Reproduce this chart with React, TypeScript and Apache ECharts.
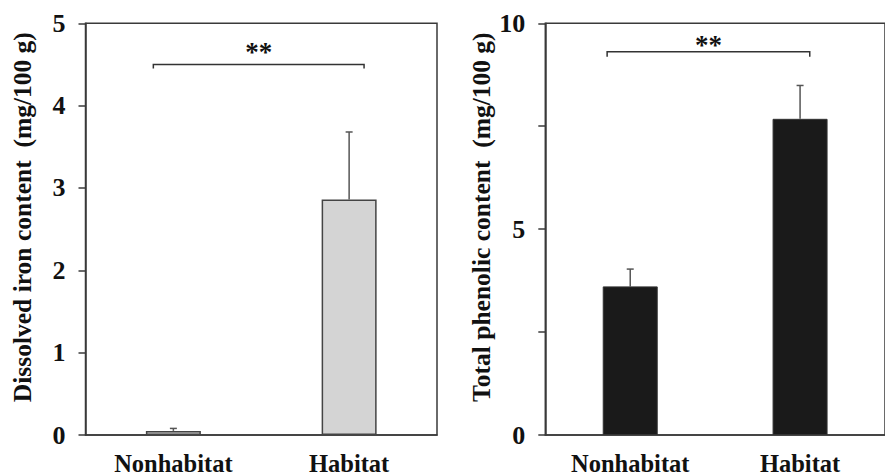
import React, { useEffect, useRef } from "react";
import * as echarts from "echarts";

const categories = ["Nonhabitat", "Habitat"];
const ironValues = [0.05, 2.86];
const ironErrors = [0.03, 0.82];
const phenolValues = [3.61, 7.68];
const phenolErrors = [0.42, 0.81];
const ironTicks = [0, 1, 2, 3, 4, 5];
const phenolTickLabels = [0, 5, 10];
// significance brackets: [fromIndex, toIndex, bracketValue, legValue, starValue]
const ironBracket = [[0, 1, 4.5, 4.45, 4.65]];
const phenolBracket = [[0, 1, 9.31, 9.19, 9.47]];

const FONT = "'Liberation Serif', 'Times New Roman', serif";
const AXIS = "#3a3a3a";

function errorSeries(values: number[], errors: number[], xi: number, yi: number) {
  return {
    type: "custom",
    xAxisIndex: xi,
    yAxisIndex: yi,
    z: 1,
    data: values.map((v, i) => [i, v, v + errors[i]]),
    renderItem: (_p: any, api: any) => {
      const a = api.coord([api.value(0), api.value(1)]);
      const b = api.coord([api.value(0), api.value(2)]);
      return {
        type: "group",
        children: [
          { type: "line", shape: { x1: a[0], y1: a[1], x2: b[0], y2: b[1] }, style: { stroke: "#555", lineWidth: 1.5 } },
          { type: "line", shape: { x1: b[0] - 3.5, y1: b[1], x2: b[0] + 3.5, y2: b[1] }, style: { stroke: "#555", lineWidth: 1.5 } },
        ],
      };
    },
  };
}

function bracketSeries(data: number[][], xi: number, yi: number, off0: number, off1: number) {
  return {
    type: "custom",
    xAxisIndex: xi,
    yAxisIndex: yi,
    clip: false,
    data,
    renderItem: (_p: any, api: any) => {
      const band = api.size([1, 0])[0];
      const p0 = api.coord([api.value(0), api.value(2)]);
      const p1 = api.coord([api.value(1), api.value(2)]);
      const leg = api.coord([api.value(0), api.value(3)]);
      const star = api.coord([api.value(0), api.value(4)]);
      const x0 = p0[0] + off0 * band;
      const x1 = p1[0] + off1 * band;
      return {
        type: "group",
        children: [
          {
            type: "polyline",
            shape: { points: [[x0, leg[1]], [x0, p0[1]], [x1, p0[1]], [x1, leg[1]]] },
            style: { stroke: "#333", fill: null, lineWidth: 1.5 },
          },
          {
            type: "text",
            x: (x0 + x1) / 2,
            y: star[1],
            style: { text: "**", font: `bold 27px ${FONT}`, fill: "#111", align: "center", verticalAlign: "middle" },
          },
        ],
      };
    },
  };
}

export default function App() {
  const ref = useRef<HTMLDivElement>(null);
  useEffect(() => {
    if (!ref.current) return;
    const chart = echarts.init(ref.current, null, { renderer: "svg" });
    const yLabel = { fontFamily: FONT, fontWeight: "bold", fontSize: 26, color: "#111" };
    const xAxisBase = {
      type: "category",
      data: categories,
      axisTick: { show: false },
      axisLine: { lineStyle: { color: AXIS, width: 1.5 } },
      axisLabel: { fontFamily: FONT, fontWeight: "bold", fontSize: 24.5, color: "#111", margin: 16 },
    };
    const yAxisBase = {
      type: "value",
      min: 0,
      splitLine: { show: false },
      axisLine: { show: true, lineStyle: { color: AXIS, width: 1.5 } },
      axisTick: { show: true, inside: false, length: 7, lineStyle: { color: AXIS, width: 1.5 } },
      nameLocation: "middle",
      nameRotate: 90,
      nameTextStyle: { fontFamily: FONT, fontWeight: "bold", fontSize: 25.5, color: "#111", padding: [0, 0, 0, 24] },
    };
    chart.setOption({
      animation: false,
      backgroundColor: "#fff",
      grid: [
        { left: 85.5, top: 23.3, width: 351.5, height: 413.4, show: true, borderColor: AXIS, borderWidth: 1.5, backgroundColor: "transparent" },
        { left: 545.3, top: 23.3, width: 351.5, height: 413.4, show: true, borderColor: AXIS, borderWidth: 1.5, backgroundColor: "transparent" },
      ],
      xAxis: [
        { ...xAxisBase, gridIndex: 0 },
        { ...xAxisBase, gridIndex: 1 },
      ],
      yAxis: [
        {
          ...yAxisBase,
          gridIndex: 0,
          max: ironTicks[ironTicks.length - 1],
          interval: 1,
          name: "Dissolved iron content  (mg/100 g)",
          nameGap: 50,
          axisLabel: { ...yLabel, margin: 20 },
        },
        {
          ...yAxisBase,
          gridIndex: 1,
          max: phenolTickLabels[phenolTickLabels.length - 1],
          interval: 2.5,
          name: "Total phenolic content  (mg/100 g)",
          nameGap: 51,
          axisLabel: {
            ...yLabel,
            margin: 20,
            formatter: (v: number) => (phenolTickLabels.includes(v) ? String(v) : ""),
          },
        },
      ],
      series: [
        {
          type: "bar",
          xAxisIndex: 0,
          yAxisIndex: 0,
          data: ironValues,
          barWidth: 55,
          z: 2,
          itemStyle: { color: "#d4d4d4", borderColor: "#444", borderWidth: 1.5 },
        },
        errorSeries(ironValues, ironErrors, 0, 0),
        bracketSeries(ironBracket, 0, 0, -0.114, 0.085),
        {
          type: "bar",
          xAxisIndex: 1,
          yAxisIndex: 1,
          data: phenolValues,
          barWidth: 55,
          z: 2,
          itemStyle: { color: "#1a1a1a", borderColor: "#333", borderWidth: 1 },
        },
        errorSeries(phenolValues, phenolErrors, 1, 1),
        bracketSeries(phenolBracket, 1, 1, -0.136, 0.057),
      ],
    });
    return () => chart.dispose();
  }, []);
  return (
    <div
      ref={ref}
      style={{ position: "fixed", left: 0, top: 0, width: 885, height: 476, background: "#fff" }}
    />
  );
}
